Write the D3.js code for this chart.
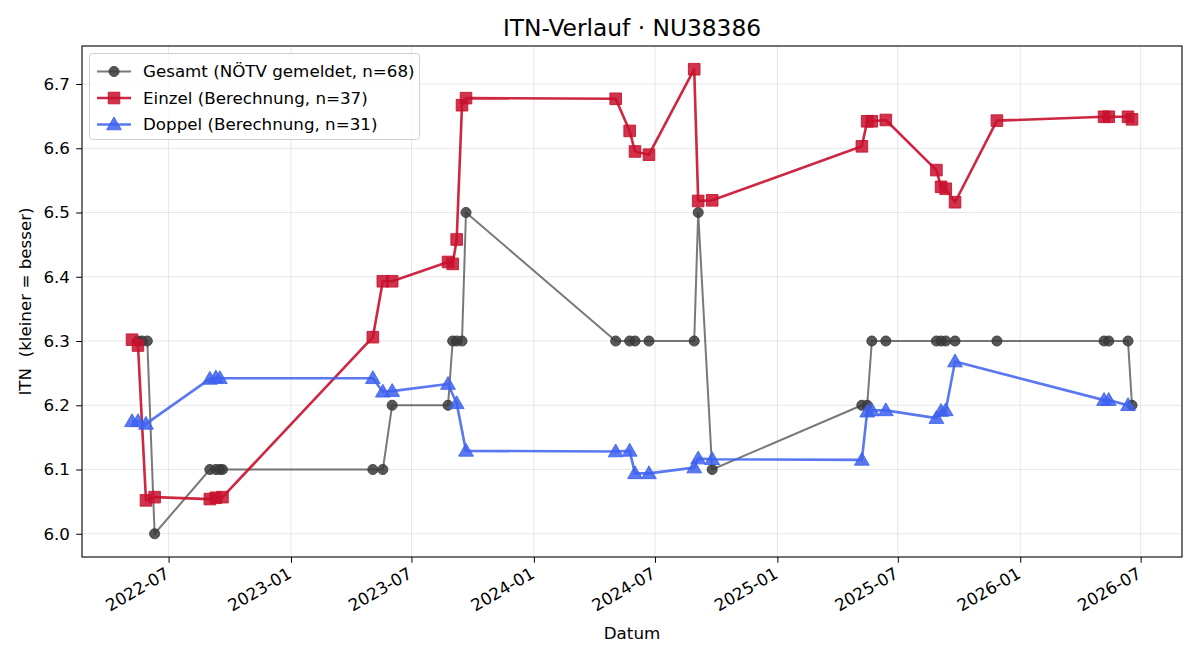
<!DOCTYPE html>
<html>
<head>
<meta charset="utf-8">
<script src="https://cdn.jsdelivr.net/npm/d3@7"></script>
<style>
  body { margin: 0; background: #fff; }
  svg { font-family: "DejaVu Sans", sans-serif; }
  text { white-space: pre; }
</style>
</head>
<body>
<svg id="chart" width="1200" height="660"></svg>
<script>
const titleText = "ITN-Verlauf · NU38386";
const xLabel = "Datum";
const yLabel = "ITN  (kleiner = besser)";
const seriesNames = ["Gesamt (NÖTV gemeldet, n=68)", "Einzel (Berechnung, n=37)", "Doppel (Berechnung, n=31)"];

const gesamtDates = ["2022-05-16","2022-05-22","2022-05-30","2022-06-10","2022-09-01","2022-09-10","2022-09-16","2022-09-20","2023-05-04","2023-05-19","2023-06-02","2023-08-25","2023-09-01","2023-09-07","2023-09-15","2023-09-21","2024-05-03","2024-05-24","2024-06-01","2024-06-22","2024-08-29","2024-09-04","2024-09-25","2025-05-08","2025-05-16","2025-05-23","2025-06-13","2025-08-28","2025-09-04","2025-09-11","2025-09-25","2025-11-27","2026-05-07","2026-05-14","2026-06-12","2026-06-18"];
const gesamtValues = [6.3,6.3,6.3,6.0,6.1,6.1,6.1,6.1,6.1,6.1,6.2,6.2,6.3,6.3,6.3,6.5,6.3,6.3,6.3,6.3,6.3,6.5,6.1,6.2,6.2,6.3,6.3,6.3,6.3,6.3,6.3,6.3,6.3,6.3,6.3,6.2];

const einzelDates = ["2022-05-07","2022-05-16","2022-05-28","2022-06-10","2022-09-01","2022-09-10","2022-09-20","2023-05-04","2023-05-19","2023-06-02","2023-08-25","2023-09-01","2023-09-07","2023-09-15","2023-09-21","2024-05-03","2024-05-24","2024-06-01","2024-06-22","2024-08-29","2024-09-04","2024-09-25","2025-05-08","2025-05-16","2025-05-23","2025-06-13","2025-08-28","2025-09-04","2025-09-11","2025-09-25","2025-11-27","2026-05-07","2026-05-14","2026-06-12","2026-06-18"];
const einzelValues = [6.302,6.293,6.052,6.057,6.054,6.056,6.057,6.306,6.393,6.393,6.423,6.420,6.458,6.667,6.678,6.677,6.627,6.595,6.590,6.723,6.518,6.519,6.603,6.642,6.642,6.644,6.566,6.540,6.537,6.516,6.643,6.649,6.649,6.649,6.645];

const doppelDates = ["2022-05-07","2022-05-16","2022-05-28","2022-09-01","2022-09-10","2022-09-16","2023-05-04","2023-05-19","2023-06-02","2023-08-25","2023-09-07","2023-09-21","2024-05-03","2024-05-24","2024-06-01","2024-06-22","2024-08-29","2024-09-04","2024-09-25","2025-05-08","2025-05-16","2025-05-23","2025-06-13","2025-08-28","2025-09-04","2025-09-11","2025-09-25","2026-05-07","2026-05-14","2026-06-12"];
const doppelValues = [6.175,6.175,6.171,6.241,6.243,6.242,6.242,6.221,6.222,6.233,6.203,6.129,6.128,6.129,6.094,6.094,6.103,6.117,6.116,6.115,6.190,6.192,6.192,6.180,6.191,6.192,6.268,6.208,6.208,6.200];

const yTicks = [6.0, 6.1, 6.2, 6.3, 6.4, 6.5, 6.6, 6.7];

const parse = d3.utcParse("%Y-%m-%d");
function zip(ds, vs) { return ds.map((d, i) => ({ date: parse(d), value: vs[i] })); }
const series = [
  { name: seriesNames[0], data: zip(gesamtDates, gesamtValues), color: "#3a3a3a", lineOpacity: 0.68, markOpacity: 0.85, width: 2.0, shape: "circle" },
  { name: seriesNames[1], data: zip(einzelDates, einzelValues), color: "#c8102e", lineOpacity: 0.9, markOpacity: 0.85, width: 2.6, shape: "square" },
  { name: seriesNames[2], data: zip(doppelDates, doppelValues), color: "#3d62ef", lineOpacity: 0.85, markOpacity: 0.85, width: 2.6, shape: "triangle" }
];

const margin = { left: 82, right: 18, top: 46, bottom: 103 };
const W = 1200, H = 660;
const FS = 16.7;
const svg = d3.select("#chart");

const allPts = series.flatMap(s => s.data);
const [dMin, dMax] = d3.extent(allPts, p => p.date);
const span = dMax - dMin;
const [vMin, vMax] = d3.extent(allPts, p => p.value);
const vSpan = vMax - vMin;

const x = d3.scaleUtc()
  .domain([new Date(+dMin - span * 0.05), new Date(+dMax + span * 0.05)])
  .range([margin.left, W - margin.right]);
const y = d3.scaleLinear()
  .domain([vMin - vSpan * 0.05, vMax + vSpan * 0.05])
  .range([H - margin.bottom, margin.top]);

const xTicks = x.ticks(d3.utcMonth.every(6));
const fmt = d3.utcFormat("%Y-%m");

// grid
const grid = svg.append("g");
grid.selectAll(".gx").data(xTicks).join("line")
  .attr("x1", d => x(d)).attr("x2", d => x(d))
  .attr("y1", margin.top).attr("y2", H - margin.bottom)
  .attr("stroke", "#b0b0b0").attr("stroke-opacity", 0.3).attr("stroke-width", 1);
grid.selectAll(".gy").data(yTicks).join("line")
  .attr("x1", margin.left).attr("x2", W - margin.right)
  .attr("y1", d => y(d)).attr("y2", d => y(d))
  .attr("stroke", "#b0b0b0").attr("stroke-opacity", 0.3).attr("stroke-width", 1);

// series
const symbolFor = { circle: d3.symbolCircle, square: d3.symbolSquare, triangle: d3.symbolTriangle };
const sizeFor = { circle: 80, square: 135, triangle: 95 };
series.forEach(s => {
  const line = d3.line().x(d => x(d.date)).y(d => y(d.value));
  const g = svg.append("g");
  g.append("path").datum(s.data).attr("d", line)
    .attr("fill", "none").attr("stroke", s.color).attr("stroke-width", s.width)
    .attr("stroke-opacity", s.lineOpacity).attr("stroke-linejoin", "round");
  const sym = d3.symbol().type(symbolFor[s.shape]).size(sizeFor[s.shape]);
  g.selectAll("path.m").data(s.data).join("path").attr("class", "m")
    .attr("d", sym)
    .attr("transform", d => `translate(${x(d.date)},${y(d.value) + (s.shape === "triangle" ? 1 : 0)})`)
    .attr("fill", s.color).attr("fill-opacity", s.markOpacity)
    .attr("stroke", s.color).attr("stroke-opacity", s.markOpacity).attr("stroke-width", 1);
});

// frame
svg.append("rect").attr("x", margin.left).attr("y", margin.top)
  .attr("width", W - margin.left - margin.right).attr("height", H - margin.top - margin.bottom)
  .attr("fill", "none").attr("stroke", "#000").attr("stroke-width", 1.1);

// axes
const xAxis = svg.append("g").attr("transform", `translate(0,${H - margin.bottom})`)
  .call(d3.axisBottom(x).tickValues(xTicks).tickFormat(fmt).tickSize(5.8).tickSizeOuter(0));
xAxis.select(".domain").remove();
xAxis.selectAll("text")
  .attr("font-size", FS).attr("font-family", "DejaVu Sans").attr("fill", "#000")
  .attr("text-anchor", "end").attr("dy", null).attr("y", 0).attr("x", 0)
  .attr("transform", "translate(-1,16) rotate(-30)")
  .attr("dominant-baseline", "middle");
xAxis.selectAll("line").attr("stroke", "#000");

const yAxis = svg.append("g").attr("transform", `translate(${margin.left},0)`)
  .call(d3.axisLeft(y).tickValues(yTicks).tickFormat(d3.format(".1f")).tickSize(5.8).tickSizeOuter(0));
yAxis.select(".domain").remove();
yAxis.selectAll("text").attr("font-size", FS).attr("font-family", "DejaVu Sans").attr("fill", "#000").attr("x", -12);
yAxis.selectAll("line").attr("stroke", "#000");

// labels
svg.append("text").attr("x", (margin.left + W - margin.right) / 2).attr("y", 36)
  .attr("text-anchor", "middle").attr("font-size", 23.3).text(titleText);
svg.append("text").attr("x", (margin.left + W - margin.right) / 2).attr("y", 639)
  .attr("text-anchor", "middle").attr("font-size", FS).text(xLabel);
svg.append("text").attr("transform", `translate(31,${(margin.top + H - margin.bottom) / 2}) rotate(-90)`)
  .attr("text-anchor", "middle").attr("font-size", FS).text(yLabel);

// legend
const lg = svg.append("g");
lg.append("rect").attr("x", 89.5).attr("y", 53.5).attr("width", 330).attr("height", 86).attr("rx", 3)
  .attr("fill", "#fff").attr("fill-opacity", 0.8).attr("stroke", "#d0d0d0");
series.forEach((s, i) => {
  const cy = 71.5 + i * 26.5;
  lg.append("line").attr("x1", 97).attr("x2", 131).attr("y1", cy).attr("y2", cy)
    .attr("stroke", s.color).attr("stroke-width", s.width).attr("stroke-opacity", s.lineOpacity);
  lg.append("path").attr("d", d3.symbol().type(symbolFor[s.shape]).size(sizeFor[s.shape])())
    .attr("transform", `translate(114,${cy + (s.shape === "triangle" ? 1 : 0)})`)
    .attr("fill", s.color).attr("fill-opacity", s.markOpacity)
    .attr("stroke", s.color).attr("stroke-opacity", s.markOpacity);
  lg.append("text").attr("x", 143).attr("y", cy).attr("dy", "0.35em")
    .attr("font-size", FS).text(s.name);
});
</script>
</body>
</html>
